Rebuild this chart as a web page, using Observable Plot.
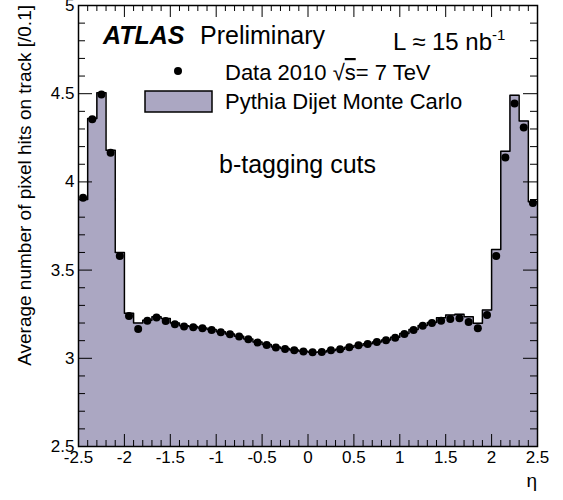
<!DOCTYPE html>
<html><head><meta charset="utf-8">
<script src="https://cdn.jsdelivr.net/npm/d3@7"></script>
<script src="https://cdn.jsdelivr.net/npm/@observablehq/plot@0.6"></script>
<style>body{margin:0;background:#fff} #chart{width:563px;height:500px}</style>
</head><body><div id="chart"></div>
<script>
// 50 bins of width 0.1 in eta from -2.5 to 2.5 (lower edges)
const binLow = d3.range(50).map(i => +(-2.5 + 0.1 * i).toFixed(2));
const dataValues = [
  3.910, 4.355, 4.496, 4.165, 3.580, 3.240, 3.166, 3.213, 3.232, 3.212,
  3.193, 3.180, 3.176, 3.170, 3.161, 3.148, 3.136, 3.123, 3.108, 3.089,
  3.076, 3.061, 3.053, 3.046, 3.039, 3.034, 3.036, 3.045, 3.051, 3.063,
  3.074, 3.081, 3.093, 3.102, 3.117, 3.138, 3.161, 3.185, 3.200, 3.213,
  3.223, 3.227, 3.206, 3.170, 3.246, 3.580, 4.138, 4.444, 4.308, 3.881
];
const mcValues = [
  3.900, 4.360, 4.505, 4.180, 3.600, 3.255, 3.200, 3.215, 3.235, 3.225,
  3.200, 3.185, 3.180, 3.172, 3.163, 3.150, 3.138, 3.125, 3.110, 3.092,
  3.078, 3.064, 3.055, 3.047, 3.040, 3.035, 3.036, 3.044, 3.052, 3.063,
  3.073, 3.082, 3.093, 3.104, 3.120, 3.140, 3.163, 3.186, 3.203, 3.230,
  3.246, 3.250, 3.236, 3.198, 3.274, 3.617, 4.174, 4.491, 4.345, 3.887
];
const xMajorTicks = [-2.5, -2, -1.5, -1, -0.5, 0, 0.5, 1, 1.5, 2, 2.5];
const yMajorTicks = [2.5, 3, 3.5, 4, 4.5, 5];
const xMinorTicks = d3.range(-25, 26).map(i => i / 10).filter(v => !xMajorTicks.includes(v));
const yMinorTicks = d3.range(25, 51).map(i => i / 10).filter(v => !yMajorTicks.includes(v));

const fillColor = "#aba7c2";
const font = "'Liberation Sans', Arial, Helvetica, sans-serif";

const W = 563, H = 500, mL = 78, mR = 26, mT = 5, mB = 54;
const frameW = W - mL - mR, frameH = H - mT - mB;

const rows = binLow.map((lo, i) => ({lo, center: lo + 0.05, data: dataValues[i], mc: mcValues[i]}));
const stepPts = rows.map(r => ({x: r.lo, y: r.mc})).concat([{x: 2.5, y: mcValues[mcValues.length - 1]}]);

// inward ticks: rules spanning the frame, inset so only a short stub remains at an edge
const xTicks = (vals, side, len) => Plot.ruleX(vals, {
  x: d => d, stroke: "black", strokeWidth: 1,
  ...(side === "bottom" ? {insetTop: frameH - len} : {insetBottom: frameH - len})
});
const yTicks = (vals, side, len) => Plot.ruleY(vals, {
  y: d => d, stroke: "black", strokeWidth: 1,
  ...(side === "left" ? {insetRight: frameW - len} : {insetLeft: frameW - len})
});

const chart = Plot.plot({
  width: W, height: H,
  marginLeft: mL, marginRight: mR, marginTop: mT, marginBottom: mB,
  x: {domain: [-2.5, 2.5], label: null},
  y: {domain: [2.5, 5], label: null},
  style: {fontFamily: font, fontSize: "17px", background: "white", color: "black"},
  marks: [
    Plot.areaY(stepPts, {x: "x", y: "y", curve: "step-after", fill: fillColor, clip: true}),
    Plot.line(stepPts, {x: "x", y: "y", curve: "step-after", stroke: "black", strokeWidth: 1.5, clip: true}),
    Plot.dot(rows, {x: "center", y: "data", r: 4, fill: "black", stroke: "none"}),
    xTicks(xMajorTicks, "bottom", 12), xTicks(xMinorTicks, "bottom", 6),
    xTicks(xMajorTicks, "top", 12), xTicks(xMinorTicks, "top", 6),
    yTicks(yMajorTicks, "left", 14), yTicks(yMinorTicks, "left", 7),
    yTicks(yMajorTicks, "right", 14), yTicks(yMinorTicks, "right", 7),
    Plot.axisX(xMajorTicks, {anchor: "bottom", tickSize: 0, tickPadding: 4, tickFormat: d => String(d), label: null, fill: "black", fontSize: 17}),
    Plot.axisY(yMajorTicks, {anchor: "left", tickSize: 0, tickPadding: 4, tickFormat: d => String(d), label: null, fill: "black", fontSize: 17}),
    Plot.frame({stroke: "black", strokeWidth: 1.5})
  ]
});
document.getElementById("chart").appendChild(chart);

const svg = d3.select(chart);
function txt(x, y, s, size, opts = {}) {
  const t = svg.append("text").attr("x", x).attr("y", y)
    .attr("font-family", font).attr("font-size", size)
    .attr("text-anchor", opts.anchor || "start").attr("fill", "black")
    .text(s);
  if (opts.weight) t.attr("font-weight", opts.weight);
  if (opts.style) t.attr("font-style", opts.style);
  if (opts.transform) t.attr("transform", opts.transform);
  return t;
}
// Annotations
txt(103, 43.5, "ATLAS", 25, {weight: "bold", style: "italic"});
txt(200, 43.5, "Preliminary", 25);
const L = txt(393, 50, "L \u2248 15 nb", 24);
L.append("tspan").attr("font-size", 15).attr("dy", -10).text("-1");
txt(219, 173, "b-tagging cuts", 25);
// Legend
svg.append("circle").attr("cx", 178).attr("cy", 71).attr("r", 4).attr("fill", "black");
const d = txt(225, 80, "Data 2010 \u221A", 22);
d.append("tspan").attr("text-decoration", "overline").text("s");
d.append("tspan").text("= 7 TeV");
svg.append("rect").attr("x", 145).attr("y", 91).attr("width", 67).attr("height", 21)
  .attr("fill", fillColor).attr("stroke", "black").attr("stroke-width", 1.5);
txt(225, 108.5, "Pythia Dijet Monte Carlo", 22);
// Axis titles
txt(0, 0, "Average number of pixel hits on track [/0.1]", 19, {anchor: "end", transform: "translate(30.5,5) rotate(-90)"});
txt(537, 487, "\u03B7", 19, {anchor: "end"});
</script>
</body></html>
